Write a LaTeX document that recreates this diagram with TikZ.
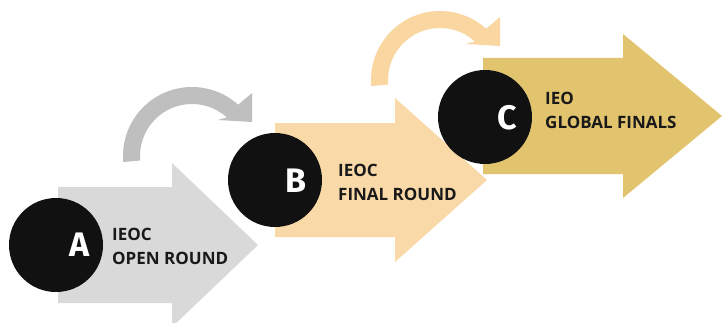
\documentclass[tikz,border=0pt]{standalone}
\usepackage{fontspec}
\setmainfont{Fira Sans}
\newfontfamily\labelfont{Open Sans}
\definecolor{agray}{HTML}{D9D9D9}
\definecolor{arcgray}{HTML}{BFBFBF}
\definecolor{bpeach}{HTML}{FAD9A8}
\definecolor{arcpeach}{HTML}{FAD7A0}
\definecolor{cgold}{HTML}{E2C46F}
\definecolor{dotblack}{HTML}{111111}
\begin{document}
\begin{tikzpicture}[x=1pt,y=1pt,
  stagedot/.style={circle, fill=dotblack, minimum size=94pt, inner sep=0pt},
  stageletter/.style={text=white, font=\bfseries\fontsize{34}{34}\selectfont, inner sep=0pt},
  stagelabel/.style={anchor=west, align=left, inner sep=0pt, text=black!90, font=\labelfont\bfseries\fontsize{17}{24}\selectfont},
  turnarrow/.pic={\path[pic actions] (185:69pt) arc[start angle=185,end angle=48,radius=69pt] -- (60,63) -- (60,34) -- (26,36) -- (48:52pt) arc[start angle=48,end angle=185,radius=52pt] -- cycle;}]
\useasboundingbox (0,0) rectangle (723,322);
\clip (0,0) rectangle (723,322);
\fill[white] (0,0) rectangle (723,322);
% stage A
\pic[fill=arcgray] at (192,166) {turnarrow};
\fill[agray] (58,19) -- (58,135) -- (172,135) -- (172,159) -- (258,77) -- (172,-5) -- (172,19) -- cycle;
\node[stagedot] (dotA) at (56,77) {};
\node[stageletter] (letA) at (80,77) {A};
\node[stagelabel] (labA) at (112,76) {IEOC\\OPEN ROUND};
% stage B
\fill[bpeach] (275,85) -- (275,199) -- (395,199) -- (395,224) -- (487,142) -- (395,60) -- (395,85) -- cycle;
\node[stagedot] (dotB) at (275,142) {};
\node[stageletter] (letB) at (296,141) {B};
\node[stagelabel] (labB) at (338,139.5) {IEOC\\FINAL ROUND};
% stage C
\pic[fill=arcpeach] at (440,242) {turnarrow};
\fill[cgold] (483,148) -- (483,264) -- (623,264) -- (623,288) -- (722,206) -- (623,124) -- (623,148) -- cycle;
\node[stagedot] (dotC) at (485,205) {};
\node[stageletter] (letC) at (507,204) {C};
\node[stagelabel] (labC) at (545,212) {IEO\\GLOBAL FINALS};
\end{tikzpicture}
\end{document}
